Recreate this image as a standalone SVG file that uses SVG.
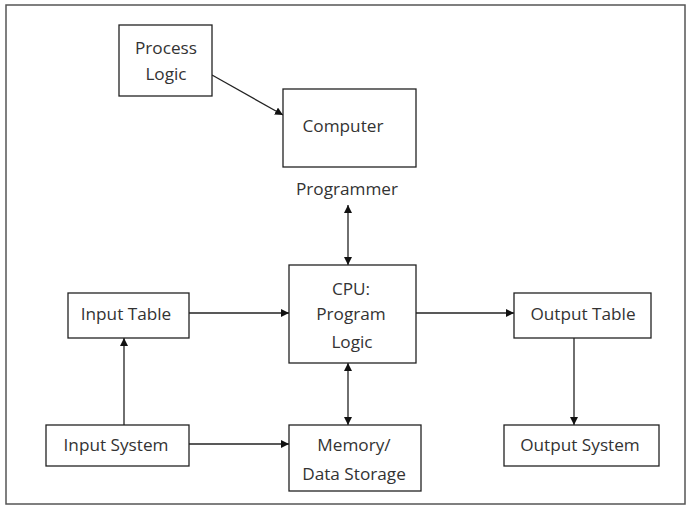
<svg xmlns="http://www.w3.org/2000/svg" width="691" height="512" viewBox="0 0 691 512">
<style>
.box{fill:#fff;stroke:#222;stroke-width:1.3}
.t{font-family:"Open Sans","Noto Sans",sans-serif;font-size:17.2px;fill:#333;text-anchor:middle;dominant-baseline:central}
.c{stroke:#222;stroke-width:1.3;fill:none}
</style>
<defs>
<marker id="ah" viewBox="0 0 10 10" refX="10" refY="5" markerWidth="8" markerHeight="8" markerUnits="userSpaceOnUse" orient="auto-start-reverse">
<path d="M0,0 L10,5 L0,10 z" fill="#111"/>
</marker>
</defs>
<rect width="691" height="512" fill="#fff"/>
<rect x="6" y="5" width="679" height="499" fill="none" stroke="#555" stroke-width="1.5"/>
<g id="connectors">
<line class="c" x1="212" y1="75" x2="283" y2="115" marker-end="url(#ah)"/>
<line class="c" x1="348" y1="205" x2="348" y2="265" marker-start="url(#ah)" marker-end="url(#ah)"/>
<line class="c" x1="189" y1="313" x2="289" y2="313" marker-end="url(#ah)"/>
<line class="c" x1="416" y1="313" x2="514" y2="313" marker-end="url(#ah)"/>
<line class="c" x1="124" y1="425" x2="124" y2="338" marker-end="url(#ah)"/>
<line class="c" x1="189" y1="444" x2="289" y2="444" marker-end="url(#ah)"/>
<line class="c" x1="348" y1="363" x2="348" y2="425" marker-start="url(#ah)" marker-end="url(#ah)"/>
<line class="c" x1="574" y1="338" x2="574" y2="425" marker-end="url(#ah)"/>
</g>
<g id="process-logic">
<rect class="box" x="119" y="25" width="93" height="71"/>
<text class="t" x="166" y="47">Process</text>
<text class="t" x="166" y="73">Logic</text>
</g>
<g id="computer">
<rect class="box" x="283" y="89" width="133" height="78"/>
<text class="t" x="343" y="125">Computer</text>
</g>
<g id="programmer">
<text class="t" x="347" y="188">Programmer</text>
</g>
<g id="cpu">
<rect class="box" x="289" y="265" width="127" height="98"/>
<text class="t" x="351" y="288">CPU:</text>
<text class="t" x="351" y="313">Program</text>
<text class="t" x="352" y="341">Logic</text>
</g>
<g id="input-table">
<rect class="box" x="68" y="293" width="121" height="45"/>
<text class="t" x="126" y="313">Input Table</text>
</g>
<g id="input-system">
<rect class="box" x="46" y="425" width="143" height="41"/>
<text class="t" x="116" y="444">Input System</text>
</g>
<g id="memory">
<rect class="box" x="289" y="425" width="132" height="66"/>
<text class="t" x="354" y="444">Memory/</text>
<text class="t" x="354" y="473">Data Storage</text>
</g>
<g id="output-table">
<rect class="box" x="514" y="293" width="137" height="45"/>
<text class="t" x="583" y="313">Output Table</text>
</g>
<g id="output-system">
<rect class="box" x="504" y="425" width="155" height="41"/>
<text class="t" x="580" y="444">Output System</text>
</g>
</svg>
